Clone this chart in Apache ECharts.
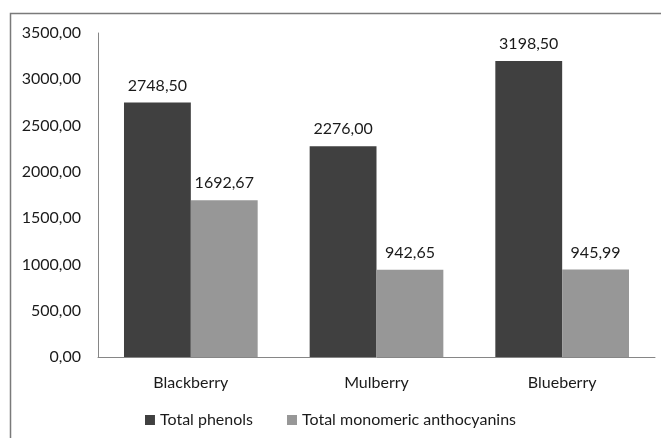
<!DOCTYPE html>
<html>
<head>
<meta charset="utf-8">
<script src="https://cdn.jsdelivr.net/npm/echarts@6/dist/echarts.min.js"></script>
<style>
  html, body { margin: 0; padding: 0; background: #fff; }
  #chart { width: 661px; height: 438px; }
</style>
</head>
<body>
<div id="chart"></div>
<script>
// data
const fruits = ['Blackberry', 'Mulberry', 'Blueberry'];
const totalPhenols = [2748.50, 2276.00, 3198.50];
const totalAnthocyanins = [1692.67, 942.65, 945.99];
const seriesNames = ['Total phenols', 'Total monomeric anthocyanins'];

// comma as decimal separator, two decimals
function fmt(v) {
    return Number(v).toFixed(2).replace('.', ',');
}

const font = 'Lato, "Open Sans", sans-serif';
const fs = 16;
const txt = '#1a1a1a';
const chart = echarts.init(document.getElementById('chart'));

chart.setOption({
    animation: false,
    textStyle: { fontFamily: font },
    graphic: [{
        type: 'rect',
        shape: { x: 10.5, y: 13.5, width: 660, height: 440 },
        style: { fill: 'none', stroke: '#7a7a7a', lineWidth: 1.5 },
        silent: true
    }],
    grid: { left: 98, right: 6, top: 33, bottom: 81 },
    legend: {
        bottom: 5,
        left: 'center',
        itemWidth: 10,
        itemHeight: 10,
        itemGap: 34,
        icon: 'rect',
        textStyle: { fontFamily: font, fontSize: fs, color: txt },
        data: seriesNames
    },
    xAxis: {
        type: 'category',
        data: fruits,
        axisLine: { lineStyle: { color: '#868686', width: 1 } },
        axisTick: { show: false },
        axisLabel: { fontFamily: font, fontSize: fs, color: txt, margin: 18 }
    },
    yAxis: {
        type: 'value',
        min: 0,
        max: 3500,
        interval: 500,
        axisLine: { show: true, lineStyle: { color: '#868686', width: 1 } },
        axisTick: { show: false },
        splitLine: { show: false },
        axisLabel: { fontFamily: font, fontSize: fs, color: txt, margin: 17, formatter: fmt }
    },
    series: [
        {
            name: seriesNames[0],
            type: 'bar',
            data: totalPhenols,
            barGap: '0%',
            barCategoryGap: '28%',
            itemStyle: { color: '#404040' },
            label: { show: true, position: 'top', distance: 9, fontFamily: font, fontSize: fs, color: txt,
                     formatter: p => fmt(p.value) }
        },
        {
            name: seriesNames[1],
            type: 'bar',
            data: totalAnthocyanins,
            itemStyle: { color: '#979797' },
            label: { show: true, position: 'top', distance: 9, fontFamily: font, fontSize: fs, color: txt,
                     formatter: p => fmt(p.value) }
        }
    ]
});
</script>
</body>
</html>
